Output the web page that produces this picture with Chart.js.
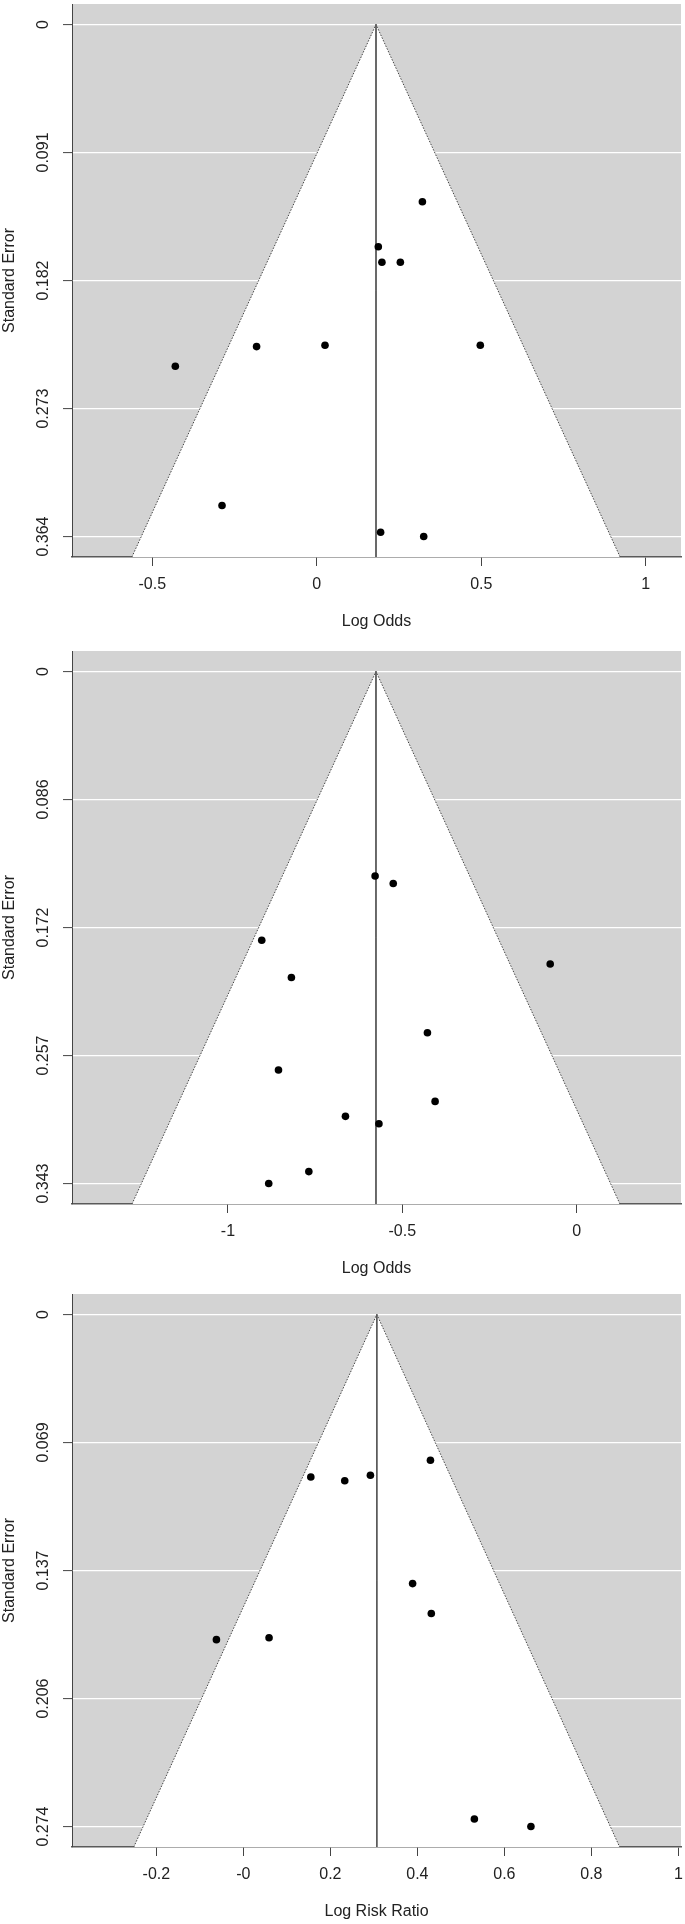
<!DOCTYPE html>
<html>
<head>
<meta charset="utf-8">
<script src="https://cdn.jsdelivr.net/npm/chart.js@4/dist/chart.umd.min.js"></script>
<style>
  html, body { margin: 0; padding: 0; background: #fff; overflow: hidden; }
  #wrap { position: relative; width: 685px; height: 1924px; background: #fff; }
  canvas { position: absolute; left: 0; }
</style>
</head>
<body>
<div id="wrap">
  <canvas id="c0" width="685" height="640" style="top:0px"></canvas>
  <canvas id="c1" width="685" height="640" style="top:647px"></canvas>
  <canvas id="c2" width="685" height="640" style="top:1290px"></canvas>
</div>
<script>
// ---- Panel 1: Log Odds ----
const p1Effect = [0.321, 0.187, 0.198, 0.254, -0.430, -0.183, 0.025, 0.497, -0.288, 0.194, 0.325];
const p1SE     = [0.126, 0.158, 0.169, 0.169, 0.243, 0.229, 0.228, 0.228, 0.342, 0.361, 0.364];
// ---- Panel 2: Log Odds ----
const p2Effect = [-0.578, -0.526, -0.903, -0.076, -0.818, -0.428, -0.855, -0.406, -0.663, -0.567, -0.768, -0.883];
const p2SE     = [0.137, 0.142, 0.180, 0.196, 0.205, 0.242, 0.267, 0.288, 0.298, 0.303, 0.335, 0.343];
// ---- Panel 3: Log Risk Ratio ----
const p3Effect = [0.430, 0.155, 0.233, 0.292, 0.389, 0.432, -0.062, 0.059, 0.531, 0.661];
const p3SE     = [0.078, 0.087, 0.089, 0.086, 0.144, 0.160, 0.174, 0.173, 0.270, 0.274];

// pooled estimates (vertical line) and funnel edges at the bottom of each plot
const estimates = [0.180, -0.5755, 0.3068];
const funnelLo  = [-0.562, -1.275, -0.252];
const funnelHi  = [0.922, 0.124, 0.865];

// axis ranges
const xMins = [-0.744, -1.447, -0.394];
const xMaxs = [1.107, 0.299, 1.006];
const yMins = [-0.01456, -0.01372, -0.01096];
const yMaxs = [0.37856, 0.35672, 0.28496];

// ticks
const xTickValues = [[-0.5, 0, 0.5, 1], [-1, -0.5, 0], [-0.2, 0, 0.2, 0.4, 0.6, 0.8, 1]];
const xTickLabels = [["-0.5", "0", "0.5", "1"], ["-1", "-0.5", "0"], ["-0.2", "-0", "0.2", "0.4", "0.6", "0.8", "1"]];
const yTickValues = [[0, 0.091, 0.182, 0.273, 0.364], [0, 0.08575, 0.1715, 0.25725, 0.343], [0, 0.0685, 0.137, 0.2055, 0.274]];
const yTickLabels = [["0", "0.091", "0.182", "0.273", "0.364"], ["0", "0.086", "0.172", "0.257", "0.343"], ["0", "0.069", "0.137", "0.206", "0.274"]];
const xTitles = ["Log Odds", "Log Odds", "Log Risk Ratio"];
const yTitle = "Standard Error";

const effects = [p1Effect, p2Effect, p3Effect];
const ses = [p1SE, p2SE, p3SE];

Chart.defaults.font.family = "'Liberation Sans', Arial, Helvetica, sans-serif";
Chart.defaults.font.size = 16;
Chart.defaults.color = '#222';

const CANVAS_H = 640, TOP_PAD = 2, AREA_H = 555, YAXIS_W = 72;

const bgPlugin = {
  id: 'panelBg',
  beforeDraw(chart) {
    const {ctx, chartArea: a} = chart;
    ctx.save();
    ctx.fillStyle = '#d3d3d3';
    ctx.fillRect(a.left, a.top, a.right - a.left, a.bottom - a.top);
    ctx.restore();
  }
};

function makeChart(i) {
  const pts = effects[i].map((v, k) => ({x: v, y: ses[i][k]}));
  const funnel = [
    {x: funnelLo[i], y: yMaxs[i]},
    {x: estimates[i], y: 0},
    {x: funnelHi[i], y: yMaxs[i]}
  ];
  const vline = [{x: estimates[i], y: 0}, {x: estimates[i], y: yMaxs[i]}];

  new Chart(document.getElementById('c' + i), {
    type: 'scatter',
    data: {
      datasets: [
        {
          type: 'line', data: funnel, order: 3,
          borderColor: '#444', borderWidth: 1, borderDash: [1.5, 1.5],
          backgroundColor: '#ffffff', fill: 'shape',
          pointRadius: 0, tension: 0
        },
        {
          type: 'line', data: vline, order: 2,
          borderColor: '#555', borderWidth: 1, fill: false,
          pointRadius: 0
        },
        {
          type: 'scatter', data: pts, order: 1,
          pointRadius: 3.8, pointBackgroundColor: '#000', pointBorderColor: '#000',
          pointBorderWidth: 0
        }
      ]
    },
    options: {
      responsive: false,
      animation: false,
      devicePixelRatio: 1,
      layout: { padding: { top: TOP_PAD, right: 2, left: 0, bottom: 0 } },
      plugins: { legend: { display: false }, tooltip: { enabled: false } },
      scales: {
        x: {
          type: 'linear',
          min: xMins[i], max: xMaxs[i],
          afterBuildTicks: s => { s.ticks = xTickValues[i].map(v => ({value: v})); },
          afterFit: s => {
            s.height = CANVAS_H - TOP_PAD - AREA_H;
            s.paddingLeft = 0; s.paddingRight = 0; s.paddingTop = 0; s.paddingBottom = 0;
          },
          ticks: {
            callback: (v, idx) => xTickLabels[i][idx],
            padding: 9, maxRotation: 0, minRotation: 0, color: '#222', autoSkip: false
          },
          grid: { drawOnChartArea: false, drawTicks: true, tickLength: 9, tickColor: '#444', tickWidth: 1 },
          border: { display: true, color: '#5a5a5a', width: 1.6 },
          title: { display: true, text: xTitles[i], color: '#222', font: {size: 16}, padding: {top: 0, bottom: 9} }
        },
        y: {
          type: 'linear',
          reverse: true,
          min: yMins[i], max: yMaxs[i],
          afterBuildTicks: s => { s.ticks = yTickValues[i].map(v => ({value: v})); },
          afterFit: s => {
            s.width = YAXIS_W;
            s.paddingLeft = 0; s.paddingRight = 0; s.paddingTop = 0; s.paddingBottom = 0;
          },
          ticks: {
            callback: (v, idx) => yTickLabels[i][idx],
            minRotation: 90, maxRotation: 90, crossAlign: 'center',
            padding: -1, color: '#222', autoSkip: false
          },
          grid: { color: '#ffffff', lineWidth: 1.2, drawOnChartArea: true, drawTicks: true, tickLength: 9, tickColor: '#444', tickWidth: 1 },
          border: { display: true, color: '#444', width: 1 },
          title: { display: true, text: yTitle, color: '#222', font: {size: 16}, padding: {top: 0, bottom: 0} }
        }
      }
    },
    plugins: [bgPlugin]
  });
}

[0, 1, 2].forEach(makeChart);
</script>
</body>
</html>
